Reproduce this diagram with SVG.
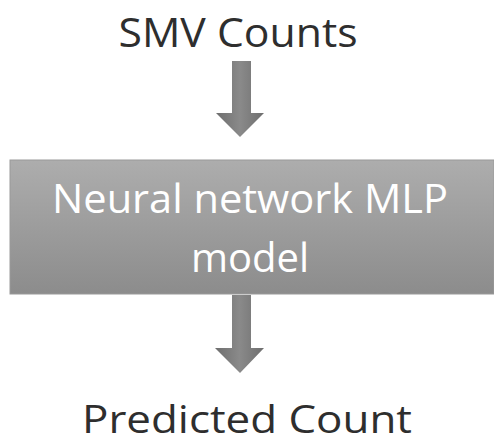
<svg xmlns="http://www.w3.org/2000/svg" width="494" height="445" viewBox="0 0 494 445">
<defs>
<linearGradient id="boxg" x1="0" y1="0" x2="0" y2="1">
<stop offset="0" stop-color="#adadad"/>
<stop offset="1" stop-color="#8c8c8c"/>
</linearGradient>
<linearGradient id="arrg" x1="0" y1="0" x2="1" y2="0">
<stop offset="0" stop-color="#6e6e6e"/>
<stop offset="0.5" stop-color="#8a8a8a"/>
<stop offset="1" stop-color="#6e6e6e"/>
</linearGradient>
<style>
.lbl{font-family:"Open Sans","Noto Sans",sans-serif;fill:#2e2e2e;text-anchor:middle;font-size:40px}
.in{font-family:"Open Sans","Noto Sans",sans-serif;fill:#ffffff;text-anchor:middle;font-size:40px}
.arr{fill:url(#arrg)}
</style>
</defs>
<rect width="494" height="445" fill="#ffffff"/>
<g id="input"><text class="lbl" x="238" y="47" textLength="239" lengthAdjust="spacingAndGlyphs">SMV Counts</text></g>
<g id="model">
<rect x="10" y="160" width="484" height="134" fill="url(#boxg)" stroke="#9a9a9a" stroke-width="1"/>
<text class="in" x="250" y="213" textLength="396" lengthAdjust="spacingAndGlyphs">Neural network MLP</text>
<text class="in" x="250" y="272">model</text>
</g>
<g id="output"><text class="lbl" x="247" y="433" font-size="38" style="font-size:38px" textLength="330" lengthAdjust="spacingAndGlyphs">Predicted Count</text></g>
<g id="connectors">
<polygon class="arr" points="232,61 251,61 251,113 264,113 240,137 216,113 232,113"/>
<polygon class="arr" points="232,295 251,295 251,348 264,348 240,373 215,348 232,348"/>
</g>
</svg>
